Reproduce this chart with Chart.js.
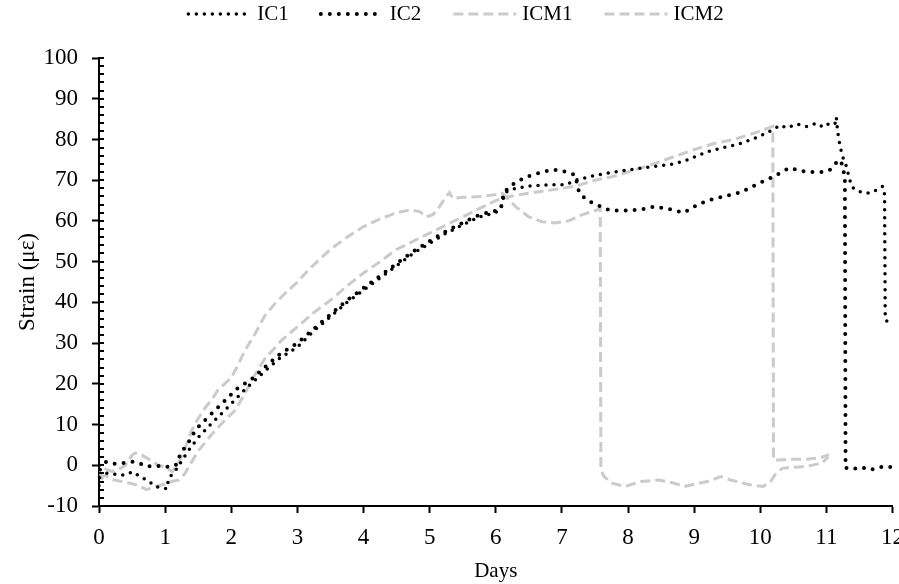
<!DOCTYPE html>
<html>
<head>
<meta charset="utf-8">
<script src="https://cdn.jsdelivr.net/npm/chart.js@4.4.1/dist/chart.umd.min.js"></script>
<style>
  html, body { margin: 0; padding: 0; overflow: hidden; background: #fff; }
  #wrap { position: absolute; left: 0; top: 0; width: 915px; height: 584px; }
</style>
</head>
<body>
<div id="wrap"><canvas id="strainChart"></canvas></div>
<script>
// gauge readings: day and strain (µε)
const ic1Days = [0, 0.02, 0.12, 0.25, 0.37, 0.51, 0.62, 0.72, 0.87, 1.03, 1.05, 1.16, 1.26, 1.36, 1.51, 1.71, 1.96, 2.2, 2.5, 2.75, 3.0, 3.25, 3.5, 3.75, 4.0, 4.25, 4.5, 4.75, 5.0, 5.25, 5.5, 5.75, 6.0, 6.08, 6.14, 6.3, 6.47, 6.7, 7.06, 7.21, 7.45, 7.71, 8.0, 8.3, 8.7, 8.9, 9.2, 9.45, 9.7, 9.95, 10.19, 10.3, 10.4, 10.55, 10.7, 10.85, 10.95, 11.05, 11.13, 11.15, 11.17, 11.2, 11.24, 11.3, 11.34, 11.38, 11.45, 11.55, 11.65, 11.75, 11.85, 11.88, 11.89, 11.95];
const ic1Strain = [-5, -1, -2, -2.2, -2.4, -1.6, -2.8, -3.6, -5.3, -5.8, -3.3, -1.2, 1.3, 3.8, 7, 10.4, 14.4, 18.5, 23, 26.5, 29, 33, 36.5, 40, 43, 46, 49, 52, 54.5, 57, 59, 61, 62, 63.5, 67, 68, 68.5, 68.8, 68.9, 70, 71, 71.8, 72.5, 73.2, 74, 75, 77, 78, 79, 80.5, 82.4, 83.5, 82.8, 83.8, 83.2, 84, 83, 84, 83.8, 85.5, 82, 79, 76, 73.5, 71, 68.5, 67.5, 67, 66.8, 67.5, 68.5, 66.5, 35.7, 35];

const ic2Days = [0, 0.05, 0.1, 0.2, 0.3, 0.4, 0.51, 0.6, 0.72, 0.85, 1.01, 1.1, 1.16, 1.21, 1.3, 1.36, 1.46, 1.6, 1.71, 1.85, 1.96, 2.1, 2.3, 2.5, 2.75, 3.0, 3.25, 3.5, 3.75, 4.0, 4.25, 4.5, 4.75, 5.0, 5.25, 5.5, 5.75, 6.0, 6.08, 6.12, 6.3, 6.5, 6.7, 6.87, 7.0, 7.2, 7.26, 7.35, 7.46, 7.71, 7.9, 8.2, 8.4, 8.6, 8.84, 9.0, 9.2, 9.45, 9.7, 9.95, 10.19, 10.44, 10.7, 10.93, 11.05, 11.13, 11.2, 11.25, 11.28, 11.29, 11.35, 11.5, 11.6, 11.7, 11.8, 11.92, 12.0];
const ic2Strain = [0, 1, 0.8, 0.3, 0.5, 0.6, 0.9, 0.6, -0.3, -0.1, -0.4, -0.2, 0, 2, 4.5, 5.8, 8.7, 11, 12.8, 15, 16.8, 19, 21, 24, 27.5, 30, 33.5, 37, 40.5, 43.5, 46.5, 49.5, 52.5, 55, 57.5, 59.5, 61.5, 62.5, 63, 67, 69.5, 71, 72, 72.6, 72.3, 71.3, 67, 65.5, 64.4, 62.7, 62.5, 62.8, 63.5, 63, 62, 63.5, 65, 66, 67, 69, 70.8, 73, 72, 72, 72.5, 74, 75, 73.5, 70, -0.7, -0.5, -1, -0.5, -1, -0.5, -0.3, -0.5];

const icm1Days = [0, 0.05, 0.1, 0.2, 0.3, 0.4, 0.5, 0.55, 0.62, 0.7, 0.8, 0.9, 0.96, 1.05, 1.11, 1.2, 1.3, 1.4, 1.5, 1.6, 1.7, 1.8, 1.9, 2.0, 2.1, 2.2, 2.35, 2.5, 2.65, 2.8, 3.0, 3.2, 3.5, 3.75, 4.0, 4.25, 4.5, 4.7, 4.85, 4.95, 5.05, 5.15, 5.23, 5.3, 5.35, 5.5, 5.8, 6.0, 6.1, 6.3, 6.5, 6.7, 6.9, 7.1, 7.3, 7.5, 7.58, 7.59, 7.64, 7.76, 7.95, 8.2, 8.46, 8.7, 8.85, 9.2, 9.4, 9.55, 9.84, 10.04, 10.14, 10.24, 10.34, 10.69, 10.93, 11.03];
const icm1Strain = [-1.5, -3, -1, -1.5, -1, 0, 2.5, 3, 2.8, 2, 1, 0, -0.3, -1, -1.6, 0.5, 4, 8.5, 11.5, 14, 16, 18.5, 20, 21.5, 24.5, 28, 32, 36.5, 39.5, 42, 45, 48.5, 53, 56, 58.6, 60.5, 62, 62.7, 62.3, 61, 61.5, 63.5, 65.5, 67, 65.5, 65.8, 66, 66.5, 66.8, 63.5, 61, 59.8, 59.5, 60, 61.5, 62.5, 63, -1.2, -2.8, -4.4, -5.2, -4, -3.6, -4.4, -5.2, -4, -2.8, -3.6, -4.8, -5.2, -4.4, -1.9, -0.7, -0.3, 0.5, 2.1];

const icm2Days = [0, 0.1, 0.22, 0.35, 0.47, 0.6, 0.72, 0.85, 1.0, 1.1, 1.21, 1.3, 1.36, 1.5, 1.7, 1.9, 2.06, 2.2, 2.35, 2.5, 2.75, 3.0, 3.25, 3.5, 3.75, 4.0, 4.25, 4.5, 4.75, 5.0, 5.25, 5.5, 5.75, 6.0, 6.2, 6.5, 6.8, 7.2, 7.5, 7.8, 8.0, 8.3, 8.7, 9.0, 9.3, 9.6, 9.9, 10.19, 10.2, 10.3, 10.5, 10.7, 10.9, 11.04];
const icm2Strain = [-3, -2.5, -3.6, -4, -4.4, -5, -6, -5.2, -4.6, -4, -3.6, -2, -0.3, 3.5, 7.5, 11, 13.5, 17.5, 22, 26, 30.5, 34, 37.5, 40.5, 44, 47.2, 50, 53, 55, 57, 59, 61, 63, 65, 66, 66.8, 67.5, 68.5, 70, 71, 72, 73.5, 75.8, 77.5, 79, 80, 81.5, 83.2, 1.3, 1.3, 1.5, 1.5, 1.8, 2.6];

const seriesNames = ['IC1', 'IC2', 'ICM1', 'ICM2'];
const minorStep = 2;

const toPoints = (days, strain) => days.map((d, i) => ({ x: d, y: strain[i] }));
const serif = "'Liberation Serif', 'Times New Roman', serif";
const grey = '#cbcbcb';

// legend drawn by hand so the dot / dash patterns show in the samples
const lineLegend = {
  id: 'lineLegend',
  afterDraw(chart) {
    const { ctx } = chart;
    const sample = 65, gapText = 6, gapItem = 30, y = 14;
    ctx.save();
    ctx.font = '21px ' + serif;
    const items = chart.data.datasets.map(ds => ({ ds, w: ctx.measureText(ds.label).width }));
    const total = items.reduce((s, it) => s + sample + gapText + it.w, 0) + gapItem * (items.length - 1);
    let x = 455 - total / 2;
    items.forEach(({ ds, w }) => {
      ctx.beginPath();
      ctx.setLineDash(ds.borderDash);
      ctx.lineCap = ds.borderCapStyle;
      ctx.lineWidth = ds.borderWidth;
      ctx.strokeStyle = ds.borderColor;
      ctx.moveTo(x + 2, y);
      ctx.lineTo(x + sample, y);
      ctx.stroke();
      ctx.setLineDash([]);
      ctx.fillStyle = '#000';
      ctx.textBaseline = 'middle';
      ctx.fillText(ds.label, x + sample + gapText, y);
      x += sample + gapText + w + gapItem;
    });
    ctx.restore();
  }
};

// inner ticks (every 2 units) on the value axis
const innerTicks = {
  id: 'innerTicks',
  afterDraw(chart) {
    const { ctx, chartArea, scales: { y } } = chart;
    ctx.save();
    ctx.strokeStyle = '#000';
    ctx.lineWidth = 2;
    for (let v = y.min; v <= y.max; v += minorStep) {
      const py = Math.round(y.getPixelForValue(v));
      ctx.beginPath();
      ctx.moveTo(chartArea.left, py);
      ctx.lineTo(chartArea.left + 5, py);
      ctx.stroke();
    }
    ctx.restore();
  }
};

const ctx = document.getElementById('strainChart').getContext('2d');
new Chart(ctx, {
  type: 'line',
  data: {
    datasets: [{
      label: seriesNames[0],
      data: toPoints(ic1Days, ic1Strain),
      borderColor: '#000',
      borderWidth: 3.5,
      borderDash: [0, 8],
      borderCapStyle: 'round',
      pointRadius: 0,
      tension: 0
    },
    {
      label: seriesNames[1],
      data: toPoints(ic2Days, ic2Strain),
      borderColor: '#000',
      borderWidth: 4,
      borderDash: [0, 9],
      borderCapStyle: 'round',
      pointRadius: 0,
      tension: 0
    },
    {
      label: seriesNames[2],
      data: toPoints(icm1Days, icm1Strain),
      borderColor: grey,
      borderWidth: 3,
      borderDash: [10, 5],
      borderCapStyle: 'butt',
      pointRadius: 0,
      tension: 0
    },
    {
      label: seriesNames[3],
      data: toPoints(icm2Days, icm2Strain),
      borderColor: grey,
      borderWidth: 3,
      borderDash: [10, 5],
      borderCapStyle: 'butt',
      pointRadius: 0,
      tension: 0
    }]
  },
  options: {
    responsive: true,
    maintainAspectRatio: false,
    animation: false,
    devicePixelRatio: 1,
    layout: { padding: { top: 58, left: 0, right: 0, bottom: 0 } },
    plugins: {
      legend: { display: false },
      tooltip: { enabled: false }
    },
    scales: {
      x: {
        type: 'linear',
        min: 0,
        max: 12,
        ticks: { stepSize: 1, color: '#000', font: { family: serif, size: 23 }, padding: 11 },
        grid: { drawOnChartArea: false, drawTicks: true, tickLength: 7, tickColor: '#000', tickWidth: 2 },
        border: { color: '#000', width: 2 },
        title: { display: true, text: 'Days', color: '#000', font: { family: serif, size: 21 }, padding: { top: 0, bottom: 0 } },
        afterFit: s => { s.height = 78; }
      },
      y: {
        min: -10,
        max: 100,
        ticks: { stepSize: 10, color: '#000', font: { family: serif, size: 23 }, padding: 14 },
        grid: { drawOnChartArea: false, drawTicks: true, tickLength: 7, tickColor: '#000', tickWidth: 2 },
        border: { color: '#000', width: 2 },
        title: { display: true, text: 'Strain (με)', color: '#000', font: { family: serif, size: 23 }, padding: { top: 14, bottom: 0 } },
        afterFit: s => { s.width = 99; }
      }
    }
  },
  plugins: [lineLegend, innerTicks]
});
</script>
</body>
</html>
